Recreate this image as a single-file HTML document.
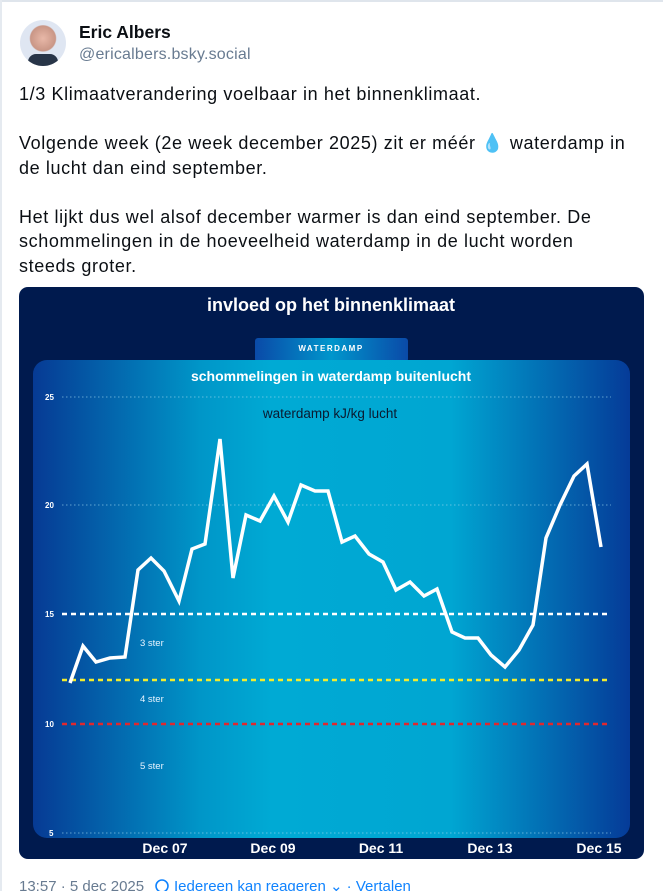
<!DOCTYPE html>
<html><head><meta charset="utf-8"><style>
*{margin:0;padding:0;box-sizing:border-box}
body{width:663px;height:891px;overflow:hidden;background:#fff;font-family:"Liberation Sans",sans-serif;position:relative}
.abs{position:absolute}
.body{left:19px;top:82px;font-size:18px;letter-spacing:0.62px;line-height:24.5px;color:#0b0f14;white-space:pre}
</style></head><body>
<div class="abs" style="left:0;top:0;width:663px;height:2px;background:#dfe5ec"></div>
<div class="abs" style="left:0;top:0;width:2px;height:891px;background:#e5eaf0"></div>
<div class="abs" style="left:20px;top:20px;width:46px;height:46px;border-radius:50%;background:radial-gradient(circle at 50% 40%,#e8b8a8 0,#c99686 35%,#dfe6f2 38%,#dfe6f2 100%);overflow:hidden"><div style="position:absolute;left:8px;top:34px;width:30px;height:14px;background:#283548;border-radius:8px 8px 0 0"></div></div>
<div class="abs" style="left:79px;top:22px;font-size:17.5px;font-weight:bold;color:#0b0f14">Eric Albers</div>
<div class="abs" style="left:79px;top:46px;font-size:16px;letter-spacing:0.2px;color:#687b91">@ericalbers.bsky.social</div>
<div class="abs body">1/3 Klimaatverandering voelbaar in het binnenklimaat.

Volgende week (2e week december 2025) zit er méér <span style="color:#3aa0e8">💧</span> waterdamp in
de lucht dan eind september.

Het lijkt dus wel alsof december warmer is dan eind september. De
schommelingen in de hoeveelheid waterdamp in de lucht worden
steeds groter.</div>
<svg class="abs" style="left:0;top:0" width="663" height="891">
<defs>
<linearGradient id="g" x1="0" x2="1" y1="0" y2="0">
<stop offset="0" stop-color="#063a94"/><stop offset="0.28" stop-color="#0096c8"/><stop offset="0.4" stop-color="#00aad4"/><stop offset="0.7" stop-color="#00a6d2"/><stop offset="1" stop-color="#053b98"/></linearGradient>
<linearGradient id="t" x1="0" x2="1"><stop offset="0" stop-color="#0a4aa8"/><stop offset="0.5" stop-color="#0096cc"/><stop offset="1" stop-color="#0a4aa8"/></linearGradient>
</defs>
<rect x="19" y="287" width="625" height="572" rx="9" fill="#001a4e"/>
<text x="331" y="311" text-anchor="middle" fill="#fff" font-size="18" font-weight="bold">invloed op het binnenklimaat</text>
<rect x="255" y="338" width="153" height="24" rx="3" fill="url(#t)"/>
<text x="331" y="351" text-anchor="middle" fill="#fff" font-size="8" font-weight="bold" letter-spacing="1.5">WATERDAMP</text>
<rect x="33" y="360" width="597" height="478" rx="14" fill="url(#g)"/>
<text x="331" y="381" text-anchor="middle" fill="#fff" font-size="14" font-weight="bold">schommelingen in waterdamp buitenlucht</text>
<text x="330" y="418" text-anchor="middle" fill="#0a1a30" font-size="13.5">waterdamp kJ/kg lucht</text>
<g font-size="8" fill="#fff" font-weight="bold">
<text x="45" y="400">25</text><text x="45" y="508">20</text><text x="45" y="617">15</text><text x="45" y="727">10</text><text x="49" y="836">5</text></g>
<g stroke="#9fd8ee" stroke-width="0.8" stroke-dasharray="1.5 2.5" opacity="0.8">
<line x1="62" y1="397" x2="611" y2="397"/><line x1="62" y1="505" x2="611" y2="505"/><line x1="62" y1="833" x2="611" y2="833"/></g>
<line x1="62" y1="614" x2="611" y2="614" stroke="#fff" stroke-width="2.5" stroke-dasharray="5 4"/>
<line x1="62" y1="680" x2="611" y2="680" stroke="#f2ec2e" stroke-width="2.5" stroke-dasharray="5 4"/>
<line x1="62" y1="724" x2="611" y2="724" stroke="#e0282e" stroke-width="2.5" stroke-dasharray="5 4"/>
<g font-size="9.5" fill="#e8f4ff"><text x="140" y="646">3 ster</text><text x="140" y="702">4 ster</text><text x="140" y="769">5 ster</text></g>
<polyline fill="none" stroke="#fff" stroke-width="3.5" stroke-linejoin="miter" points="70,683 83,646 96,662 110,658 125,657 138,570 151,558 164,571 179,601 192,549 205,544 220,439 233,578 246,515 260,521 274,496 288,522 301,485 315,491 328,491 342,542 355,536 369,554 383,562 396,590 410,582 424,596 437,589 452,632 465,638 478,638 491,655 505,667 519,650 533,625 546,538 560,505 574,476 587,464 601,547"/>
<g font-size="14" fill="#fff" font-weight="bold" text-anchor="middle">
<text x="165" y="853">Dec 07</text><text x="273" y="853">Dec 09</text><text x="381" y="853">Dec 11</text><text x="490" y="853">Dec 13</text><text x="599" y="853">Dec 15</text></g>
<text x="19" y="891" font-size="15" fill="#687b91">13:57 · 5 dec 2025</text>
<circle cx="162" cy="886" r="6" fill="none" stroke="#1083fe" stroke-width="1.6"/>
<text x="174" y="891" font-size="15" fill="#1083fe">Iedereen kan reageren ⌄  ·  Vertalen</text>
</svg>
</body></html>
